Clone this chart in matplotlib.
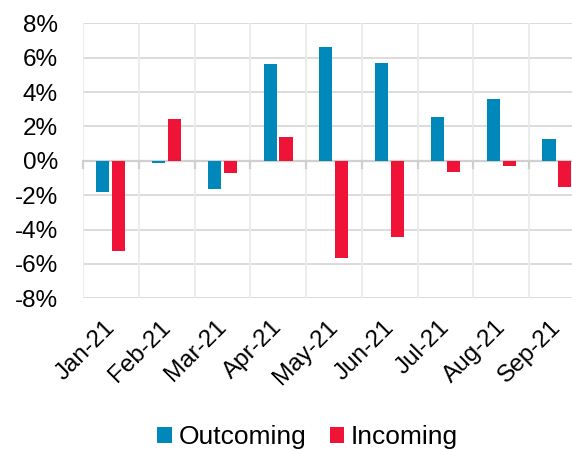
import matplotlib
matplotlib.use("Agg")
import matplotlib.pyplot as plt
import matplotlib.transforms as mtransforms
import numpy as np

categories = ["Jan-21", "Feb-21", "Mar-21", "Apr-21", "May-21", "Jun-21", "Jul-21", "Aug-21", "Sep-21"]
outcoming = [-1.84, -0.14, -1.63, 5.62, 6.61, 5.68, 2.52, 3.61, 1.28]
incoming = [-5.27, 2.42, -0.72, 1.40, -5.66, -4.42, -0.66, -0.31, -1.51]
yticks = [-8, -6, -4, -2, 0, 2, 4, 6, 8]

plt.rcParams['font.family'] = ['Liberation Sans', 'DejaVu Sans']

fig = plt.figure(figsize=(5.72, 4.51), dpi=100)
ax = fig.add_axes([83/572, 1-298.3/451, (585-83)/572, (298.3-23.3)/451])

x = np.arange(len(categories))
w = 0.235
ax.bar(x - 0.145, outcoming, w, color='#0088BA', label='Outcoming', zorder=3)
ax.bar(x + 0.14, incoming, w, color='#EE1337', label='Incoming', zorder=3)

ax.set_xlim(-0.5, len(categories) - 0.5)
ax.set_ylim(-8, 8)
ax.set_yticks(yticks)
ax.set_yticklabels([f"{v}%" for v in yticks], fontsize=17.5)
ax.tick_params(axis='y', length=0, pad=18)

# horizontal gridlines
for v in yticks:
    ax.axhline(v, color='#D9D9D9', lw=1.3, zorder=1)
# vertical separators
for b in np.arange(-0.5, len(categories), 1):
    ax.axvline(b, color='#EBEBEB', lw=1.3, zorder=1)
ax.axhline(0, color='#D0D0D0', lw=1.6, zorder=2)

ax.set_xticks(x)
ax.set_xticklabels(categories, rotation=45, ha='right', rotation_mode='anchor', fontsize=17.5)
ax.tick_params(axis='x', length=0, pad=10)
offset = mtransforms.ScaledTranslation(-7/100, -4/100, fig.dpi_scale_trans)
for lbl in ax.get_xticklabels():
    lbl.set_transform(lbl.get_transform() + offset)
# small tick marks under zero line at category boundaries
for b in np.arange(-0.5, len(categories), 1):
    ax.plot([b, b], [0, -0.4], color='#D0D0D0', lw=1.6, zorder=2, clip_on=False)

for s in ax.spines.values():
    s.set_visible(False)

leg = fig.legend(loc='lower center', bbox_to_anchor=(0.538, -0.048), ncol=2, frameon=False,
                 fontsize=19, handlelength=0.55, handleheight=0.55, handletextpad=0.25,
                 columnspacing=0.9)

fig.savefig("out.png", dpi=100)
